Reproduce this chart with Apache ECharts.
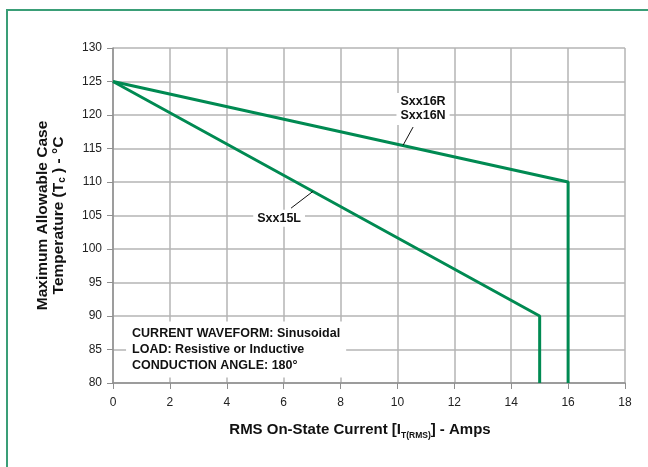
<!DOCTYPE html>
<html>
<head>
<meta charset="utf-8">
<script src="https://cdn.jsdelivr.net/npm/echarts@6/dist/echarts.min.js"></script>
<style>
html,body{margin:0;padding:0;background:#fff;}
#c{width:648px;height:467px;}
</style>
</head>
<body>
<div id="c"></div>
<script>
// Data
var xTicks = [0, 2, 4, 6, 8, 10, 12, 14, 16, 18];
var yTicks = [80, 85, 90, 95, 100, 105, 110, 115, 120, 125, 130];
var sxx16Current = [0, 16, 16];
var sxx16Temp = [125, 110, 80];
var sxx15Current = [0, 15, 15];
var sxx15Temp = [125, 90, 80];
var noteLines = ['CURRENT WAVEFORM: Sinusoidal', 'LOAD: Resistive or Inductive', 'CONDUCTION ANGLE: 180°'];

var GREEN = '#008a52';
var FONT = '"Liberation Sans", Arial, Helvetica, sans-serif';

function pairs(xs, ys) { return xs.map(function (x, i) { return [x, ys[i]]; }); }

var chart = echarts.init(document.getElementById('c'));
var option = {
  backgroundColor: '#fff',
  animation: false,
  grid: { left: 113, top: 48, right: 23, bottom: 84 },
  xAxis: {
    type: 'value', min: xTicks[0], max: xTicks[xTicks.length - 1], interval: 2,
    axisLine: { show: true, lineStyle: { color: '#8f8f8f', width: 1.5 } },
    axisTick: { show: true, length: 6, lineStyle: { color: '#8f8f8f' } },
    axisLabel: { color: '#222', fontSize: 12, fontFamily: FONT, margin: 14 },
    splitLine: { show: true, lineStyle: { color: '#b4b4b4', width: 1.5 } },
    name: '{b|RMS On-State Current [I}{s|T(RMS)}{b|] - Amps}',
    nameLocation: 'middle', nameGap: 36,
    nameTextStyle: {
      padding: [0, 18, 0, 0],
      rich: {
        b: { fontSize: 15, fontWeight: 'bold', color: '#111', fontFamily: FONT, lineHeight: 18, verticalAlign: 'bottom' },
        s: { fontSize: 8.5, fontWeight: 'bold', color: '#111', fontFamily: FONT, lineHeight: 8, verticalAlign: 'bottom', padding: [0, 0, -3, 0] }
      }
    }
  },
  yAxis: {
    type: 'value', min: yTicks[0], max: yTicks[yTicks.length - 1], interval: 5,
    axisLine: { show: true, lineStyle: { color: '#8f8f8f', width: 1.5 } },
    axisTick: { show: true, length: 6, lineStyle: { color: '#8f8f8f' } },
    axisLabel: { color: '#222', fontSize: 12, fontFamily: FONT, margin: 11 },
    splitLine: { show: true, lineStyle: { color: '#b4b4b4', width: 1.5 } },
    name: '{b|Maximum Allowable Case}\n{b|Temperature (T}{s|c}{b| ) - °C}',
    nameLocation: 'middle', nameGap: 46, nameRotate: 90,
    nameTextStyle: {
      align: 'center',
      rich: {
        b: { fontSize: 15.5, fontWeight: 'bold', color: '#111', fontFamily: FONT, lineHeight: 16, verticalAlign: 'bottom' },
        s: { fontSize: 10, fontWeight: 'bold', color: '#111', fontFamily: FONT, lineHeight: 9, verticalAlign: 'bottom' }
      }
    }
  },
  series: [
    {
      name: 'Sxx16R/N', type: 'line', data: pairs(sxx16Current, sxx16Temp),
      symbol: 'none', silent: true, lineStyle: { color: GREEN, width: 3 }, z: 5
    },
    {
      name: 'Sxx15L', type: 'line', data: pairs(sxx15Current, sxx15Temp),
      symbol: 'none', silent: true, lineStyle: { color: GREEN, width: 3 }, z: 5
    }
  ]
};
chart.setOption(option);

function px(p) { return chart.convertToPixel({ gridIndex: 0 }, p); }
var lblFont = 'bold 12.5px ' + FONT;
var a1 = px([6.26, 106.1]), a2 = px([7.03, 108.6]);
var b1 = px([10.55, 118.2]), b2 = px([10.2, 115.5]);
var l15 = px([5.84, 104.6]);
var l16 = px([10.9, 120.9]);
var note = px([0.67, 85.0]);

chart.setOption({
  graphic: [
    { type: 'rect', shape: { x: 7, y: 10, width: 720, height: 520 }, style: { fill: 'none', stroke: '#3a9e77', lineWidth: 2 }, silent: true, z: 1 },
    { type: 'line', shape: { x1: a1[0], y1: a1[1], x2: a2[0], y2: a2[1] }, style: { stroke: '#111', lineWidth: 1 }, z: 10 },
    { type: 'line', shape: { x1: b1[0], y1: b1[1], x2: b2[0], y2: b2[1] }, style: { stroke: '#111', lineWidth: 1 }, z: 10 },
    { type: 'text', x: l15[0], y: l15[1], z: 10,
      style: { text: 'Sxx15L', font: lblFont, fill: '#111', align: 'center', verticalAlign: 'middle', backgroundColor: '#fff', padding: [2, 4, 2, 4] } },
    { type: 'text', x: l16[0], y: l16[1], z: 10,
      style: { text: 'Sxx16R\nSxx16N', font: lblFont, fill: '#111', align: 'center', verticalAlign: 'middle', lineHeight: 14, backgroundColor: '#fff', padding: [2, 4, 2, 4] } },
    { type: 'text', x: note[0] - 6, y: note[1], z: 10,
      style: { text: noteLines.join('\n'), font: lblFont, fill: '#111', align: 'left', verticalAlign: 'middle', lineHeight: 16, backgroundColor: '#fff', padding: [4, 6, 4, 6] } }
  ]
});
</script>
</body>
</html>
